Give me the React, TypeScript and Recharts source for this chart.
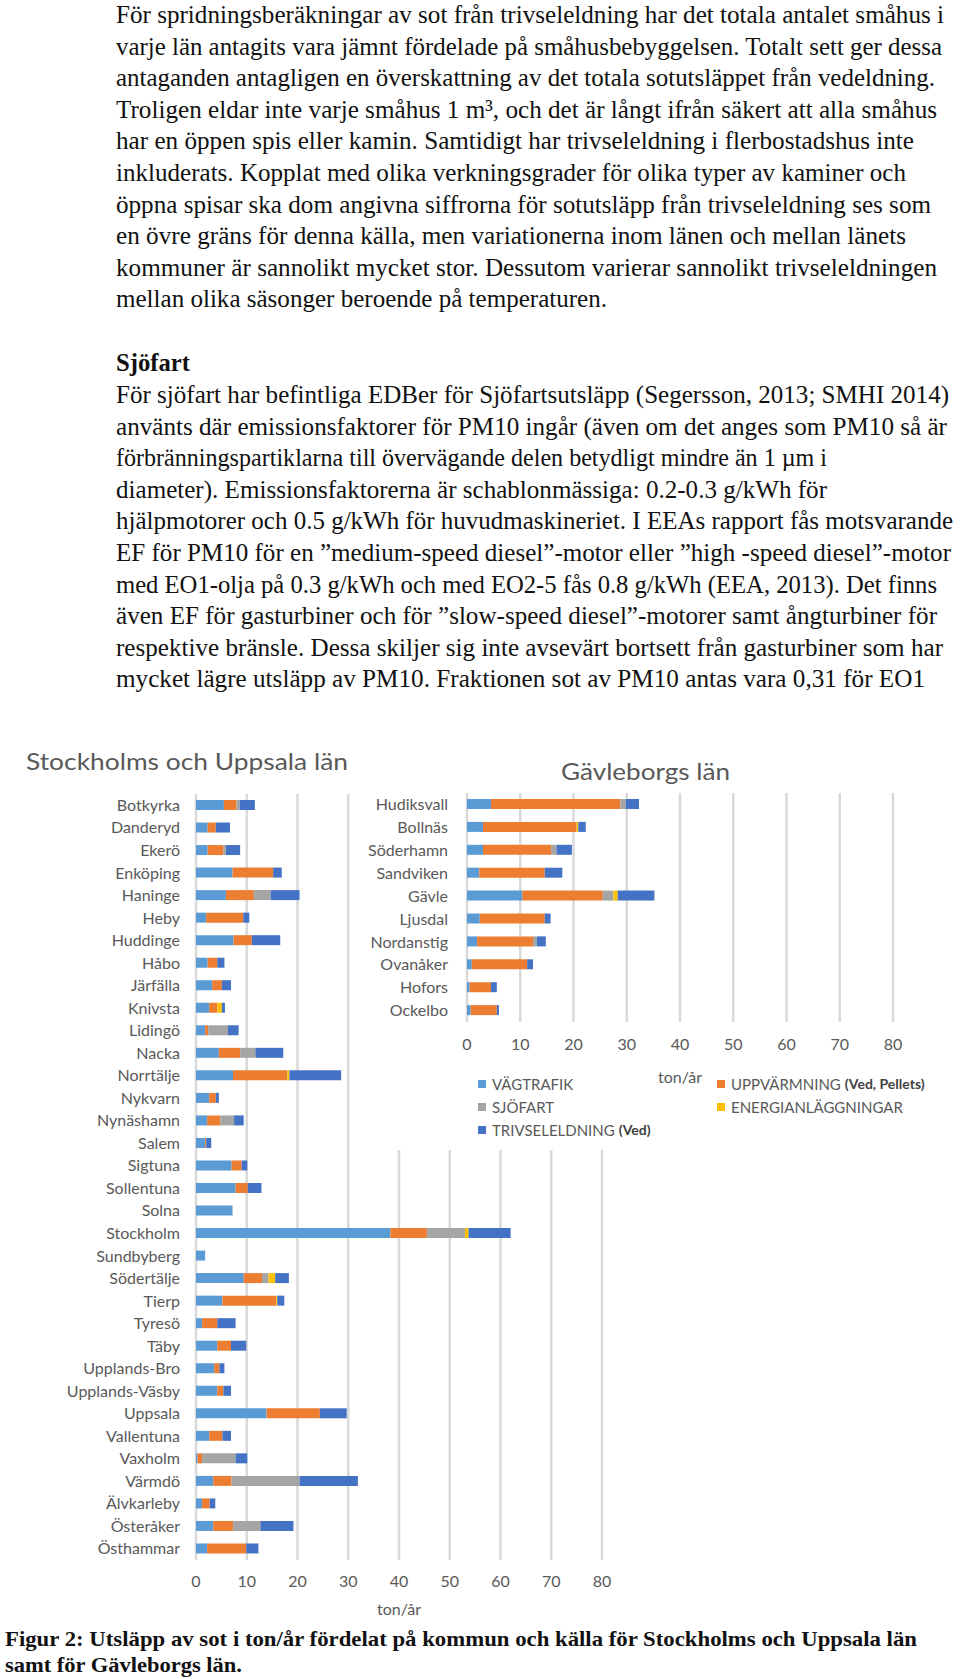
import { Bar, BarChart, CartesianGrid, XAxis, YAxis } from 'recharts'

// Stockholms och Uppsala län, ton/år per källa
const stockholmKommuner = [
  'Botkyrka', 'Danderyd', 'Ekerö', 'Enköping', 'Haninge', 'Heby', 'Huddinge', 'Håbo', 'Järfälla', 'Knivsta',
  'Lidingö', 'Nacka', 'Norrtälje', 'Nykvarn', 'Nynäshamn', 'Salem', 'Sigtuna', 'Sollentuna', 'Solna', 'Stockholm',
  'Sundbyberg', 'Södertälje', 'Tierp', 'Tyresö', 'Täby', 'Upplands-Bro', 'Upplands-Väsby', 'Uppsala', 'Vallentuna',
  'Vaxholm', 'Värmdö', 'Älvkarleby', 'Österåker', 'Östhammar',
]
const stockholmVag = [5.5, 2.3, 2.3, 7.2, 5.9, 2.0, 7.4, 2.3, 3.2, 2.6, 1.8, 4.5, 7.3, 2.6, 2.2, 1.8, 7.0, 7.8, 7.2, 38.3, 1.8, 9.4, 5.2, 1.2, 4.2, 3.6, 4.2, 13.9, 2.6, 0.3, 3.4, 1.2, 3.4, 2.2]
const stockholmUpp = [2.5, 1.6, 3.1, 8.0, 5.5, 7.3, 3.6, 1.9, 1.9, 1.6, 0.6, 4.2, 10.7, 1.3, 2.6, 0.2, 2.0, 2.4, 0, 7.2, 0, 3.6, 10.6, 3.0, 2.7, 1.0, 1.2, 10.5, 2.6, 0.9, 3.6, 1.5, 3.9, 7.7]
const stockholmSjo = [0.6, 0, 0.5, 0, 3.3, 0, 0, 0, 0, 0, 3.9, 3.0, 0, 0, 2.7, 0, 0, 0, 0, 7.5, 0, 1.3, 0, 0, 0, 0, 0, 0, 0, 6.6, 13.4, 0, 5.4, 0]
const stockholmEnergi = [0, 0, 0, 0, 0, 0, 0, 0, 0, 0.9, 0, 0, 0.4, 0, 0, 0, 0, 0, 0, 0.7, 0, 1.3, 0.2, 0, 0, 0, 0, 0, 0, 0, 0, 0, 0, 0]
const stockholmTriv = [3.0, 2.8, 2.8, 1.7, 5.7, 1.2, 5.6, 1.4, 1.8, 0.6, 2.1, 5.5, 10.2, 0.6, 1.9, 1.0, 1.1, 2.7, 0, 8.3, 0, 2.7, 1.4, 3.6, 3.0, 1.0, 1.5, 5.3, 1.7, 2.3, 11.5, 1.1, 6.5, 2.4]

// Gävleborgs län
const gavleKommuner = ['Hudiksvall', 'Bollnäs', 'Söderhamn', 'Sandviken', 'Gävle', 'Ljusdal', 'Nordanstig', 'Ovanåker', 'Hofors', 'Ockelbo']
const gavleVag = [4.5, 3.0, 3.0, 2.3, 10.4, 2.4, 1.9, 0.9, 0.5, 0.7]
const gavleUpp = [24.3, 17.6, 12.8, 12.3, 15.1, 12.2, 10.5, 10.4, 4.0, 4.9]
const gavleSjo = [1.0, 0, 1.0, 0, 2.0, 0, 0.7, 0, 0, 0]
const gavleEnergi = [0, 0.3, 0, 0, 0.8, 0, 0, 0, 0, 0]
const gavleTriv = [2.5, 1.4, 2.9, 3.3, 6.9, 1.1, 1.7, 1.1, 1.1, 0.4]

const X_TICKS = [0, 10, 20, 30, 40, 50, 60, 70, 80]

const SERIES = [
  { key: 'vag', name: 'VÄGTRAFIK', note: '' },
  { key: 'upp', name: 'UPPVÄRMNING', note: '(Ved, Pellets)' },
  { key: 'sjo', name: 'SJÖFART', note: '' },
  { key: 'energi', name: 'ENERGIANLÄGGNINGAR', note: '' },
  { key: 'triv', name: 'TRIVSELELDNING', note: '(Ved)' },
]

const COLORS: Record<string, string> = {
  vag: '#5B9BD5',
  upp: '#ED7D31',
  sjo: '#A5A5A5',
  energi: '#FFC000',
  triv: '#4472C4',
}

const P1_LINES = [
  'För spridningsberäkningar av sot från trivseleldning har det totala antalet småhus i',
  'varje län antagits vara jämnt fördelade på småhusbebyggelsen. Totalt sett ger dessa',
  'antaganden antagligen en överskattning av det totala sotutsläppet från vedeldning.',
  'Troligen eldar inte varje småhus 1 m³, och det är långt ifrån säkert att alla småhus',
  'har en öppen spis eller kamin. Samtidigt har trivseleldning i flerbostadshus inte',
  'inkluderats. Kopplat med olika verkningsgrader för olika typer av kaminer och',
  'öppna spisar ska dom angivna siffrorna för sotutsläpp från trivseleldning ses som',
  'en övre gräns för denna källa, men variationerna inom länen och mellan länets',
  'kommuner är sannolikt mycket stor. Dessutom varierar sannolikt trivseleldningen',
  'mellan olika säsonger beroende på temperaturen.',
]
const P1_ENDS = [944, 942, 935, 937, 914, 906, 931, 906, 937, 607]

const P2_LINES = [
  'För sjöfart har befintliga EDBer för Sjöfartsutsläpp (Segersson, 2013; SMHI 2014)',
  'använts där emissionsfaktorer för PM10 ingår (även om det anges som PM10 så är',
  'förbränningspartiklarna till övervägande delen betydligt mindre än 1 µm i',
  'diameter). Emissionsfaktorerna är schablonmässiga: 0.2-0.3 g/kWh för',
  'hjälpmotorer och 0.5 g/kWh för huvudmaskineriet. I EEAs rapport fås motsvarande',
  'EF för PM10 för en ”medium-speed diesel”-motor eller ”high -speed diesel”-motor',
  'med EO1-olja på 0.3 g/kWh och med EO2-5 fås 0.8 g/kWh (EEA, 2013). Det finns',
  'även EF för gasturbiner och för ”slow-speed diesel”-motorer samt ångturbiner för',
  'respektive bränsle. Dessa skiljer sig inte avsevärt bortsett från gasturbiner som har',
  'mycket lägre utsläpp av PM10. Fraktionen sot av PM10 antas vara 0,31 för EO1',
]
const P2_ENDS = [949, 947, 827, 827, 953, 951, 937, 937, 943, 925]

const CAPTION_LINES = [
  'Figur 2: Utsläpp av sot i ton/år fördelat på kommun och källa för Stockholms och Uppsala län',
  'samt för Gävleborgs län.',
]
const CAPTION_ENDS = [917, 242]

function buildRows(kommuner: string[], vag: number[], upp: number[], sjo: number[], energi: number[], triv: number[]) {
  return kommuner.map((kommun, i) => ({
    kommun,
    vag: vag[i],
    upp: upp[i],
    sjo: sjo[i],
    energi: energi[i],
    triv: triv[i],
  }))
}

const stockholmRows = buildRows(stockholmKommuner, stockholmVag, stockholmUpp, stockholmSjo, stockholmEnergi, stockholmTriv)
const gavleRows = buildRows(gavleKommuner, gavleVag, gavleUpp, gavleSjo, gavleEnergi, gavleTriv)

const CHART_FONT = 'Lato, Carlito, Calibri, sans-serif'
const SERIF_FONT = '"Liberation Serif", "Times New Roman", serif'
const TEXT_GREY = '#595959'
const TICK_STYLE = { fill: TEXT_GREY, fontSize: 16, fontFamily: CHART_FONT }

function StackChart({
  rows,
  width,
  height,
  margin,
  yWidth,
  yTickMargin,
  xTickMargin,
  labelOffset,
}: {
  rows: Record<string, number | string>[]
  width: number
  height: number
  margin: { top: number; right: number; bottom: number; left: number }
  yWidth: number
  yTickMargin: number
  xTickMargin: number
  labelOffset: number
}) {
  return (
    <BarChart width={width} height={height} data={rows} layout="vertical" margin={margin} barSize={10}>
      <CartesianGrid horizontal={false} stroke="#d9d9d9" strokeWidth={2.5} />
      <XAxis
        type="number"
        domain={[0, 80]}
        ticks={X_TICKS}
        interval={0}
        axisLine={false}
        tickLine={false}
        tickSize={0}
        tickMargin={xTickMargin}
        height={60}
        tick={TICK_STYLE}
        label={{ value: 'ton/år', position: 'insideBottom', offset: labelOffset, fill: TEXT_GREY, fontSize: 16, fontFamily: CHART_FONT }}
      />
      <YAxis
        type="category"
        dataKey="kommun"
        width={yWidth}
        interval={0}
        axisLine={false}
        tickLine={false}
        tickSize={0}
        tickMargin={yTickMargin}
        tick={TICK_STYLE}
      />
      {SERIES.map((s) => (
        <Bar key={s.key} dataKey={s.key} stackId="a" fill={COLORS[s.key]} isAnimationActive={false} />
      ))}
    </BarChart>
  )
}

// the scanned page text is tall and narrow: draw at 24px, stretch vertically
function TextLines({ lines, ends, x, y0, step, size, stretch, bold }: { lines: string[]; ends: number[]; x: number; y0: number; step: number; size: number; stretch: number; bold?: boolean }) {
  return (
    <>
      {lines.map((line, i) => (
        <g key={i} transform={`translate(${x} ${y0 + i * step}) scale(1 ${stretch})`}>
          <text
            x={0}
            y={0}
            textLength={ends[i] - x}
            lengthAdjust="spacingAndGlyphs"
            style={{ fontFamily: SERIF_FONT, fontSize: size, fontWeight: bold ? 700 : 400 }}
            fill="#111"
          >
            {line}
          </text>
        </g>
      ))}
    </>
  )
}

export default function App() {
  return (
    <div>
      <svg width={960} height={1679} style={{ position: 'absolute', left: 0, top: 0 }}>
        <TextLines lines={P1_LINES} ends={P1_ENDS} x={116} y0={23} step={31.6} size={24} stretch={1.085} />
        <TextLines lines={['Sjöfart']} ends={[190]} x={116} y0={371} step={0} size={24} stretch={1.085} bold />
        <TextLines lines={P2_LINES} ends={P2_ENDS} x={116} y0={403} step={31.6} size={24} stretch={1.085} />
        <text x={26} y={770} textLength={322} lengthAdjust="spacingAndGlyphs" fontFamily={CHART_FONT} fontSize={24} fill={TEXT_GREY}>
          Stockholms och Uppsala län
        </text>
        <TextLines lines={CAPTION_LINES} ends={CAPTION_ENDS} x={5} y0={1645.5} step={26.5} size={21} stretch={1} bold />
      </svg>

      <div style={{ position: 'absolute', left: 0, top: 790 }}>
        <StackChart
          rows={stockholmRows}
          width={640}
          height={830}
          margin={{ top: 4, right: 38, bottom: 0, left: 0 }}
          yWidth={196}
          yTickMargin={16}
          xTickMargin={16}
          labelOffset={5}
        />
      </div>

      <div style={{ position: 'absolute', left: 352, top: 740, width: 608, height: 410, background: '#fff' }}>
        <svg width={608} height={60} style={{ position: 'absolute', left: 0, top: 0 }}>
          <text x={209} y={39.5} textLength={169} lengthAdjust="spacingAndGlyphs" fontFamily={CHART_FONT} fontSize={24} fill={TEXT_GREY}>
            Gävleborgs län
          </text>
        </svg>
        <div style={{ position: 'absolute', left: 0, top: 0 }}>
          <StackChart
            rows={gavleRows}
            width={608}
            height={350}
            margin={{ top: 53, right: 67, bottom: 8, left: 0 }}
            yWidth={115}
            yTickMargin={19}
            xTickMargin={17}
            labelOffset={-1}
          />
        </div>
        <div
          style={{
            position: 'absolute',
            left: 126,
            top: 332,
            display: 'grid',
            gridTemplateColumns: '239px auto',
            gridAutoRows: '23px',
            fontFamily: CHART_FONT,
            fontSize: 15,
            color: TEXT_GREY,
          }}
        >
          {SERIES.map((s) => (
            <div key={s.key} style={{ display: 'flex', alignItems: 'center', whiteSpace: 'nowrap' }}>
              <span style={{ width: 8, height: 8, background: COLORS[s.key], marginRight: 6, flexShrink: 0 }} />
              <span>{s.name}</span>
              {s.note && <span style={{ marginLeft: 4, fontWeight: 700, fontSize: 14, color: '#404040' }}>{s.note}</span>}
            </div>
          ))}
        </div>
      </div>
    </div>
  )
}
